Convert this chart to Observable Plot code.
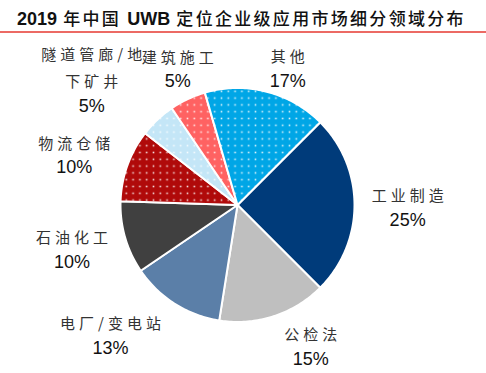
<!DOCTYPE html>
<html>
<head>
<meta charset="utf-8">
<script src="https://cdn.jsdelivr.net/npm/d3@7"></script>
<script src="https://cdn.jsdelivr.net/npm/@observablehq/plot@0.6"></script>
<style>
  html, body { margin: 0; padding: 0; background: #fff; }
  body { width: 486px; height: 373px; overflow: hidden; }
  #title {
    font-family: "Noto Sans CJK SC", sans-serif;
    font-size: 17px;
    font-weight: 500;
    letter-spacing: 2.3px;
    color: #111;
    padding: 8px 0 0 17px;
    height: 23px;
    line-height: 20px;
    white-space: nowrap;
    border-bottom: 2px solid #ec6a64;
    box-sizing: content-box;
  }
  #title .lat {
    font-family: "Liberation Sans", Arial, sans-serif;
    font-weight: bold;
    font-size: 18px;
    letter-spacing: 0;
  }
  #chart svg { display: block; }
</style>
</head>
<body>
<div id="title"><span class="lat">2019</span> 年中国 <span class="lat">UWB</span> 定位企业级应用市场细分领域分布</div>
<div id="chart"></div>
<script>
// ---- data ----
const categories = ["工业制造", "公检法", "电厂/变电站", "石油化工", "物流仓储", "隧道管廊/地下矿井", "建筑施工", "其他"];
const shares = [25, 15, 13, 10, 10, 5, 5, 17];
const labelText = ["工业制造", "公检法", "电厂/变电站", "石油化工", "物流仓储", "隧道管廊/地\n下矿井", "建筑施工", "其他"];

// ---- style / layout ----
const sliceColors = ["#003b7a", "#bfbfbf", "#5b7fa8", "#404040", "#b00a0a", "#c4e6f7", "#ff6262", "#00a6e6"];
const slicePatterned = [false, false, false, false, true, true, true, true];
const startAngle = Math.PI / 4; // 45° clockwise from 12 o'clock
const R = 117; // px per data unit (pie radius)
const labelRadius = 1.42;
const labelNudge = [[4, 15], [22, -4], [-38, 3], [-6, 11], [-7, 19], [-32, 22], [11, 27], [9, 37]];

// ---- geometry from data ----
const total = d3.sum(shares);
let acc = 0;
const slices = categories.map((c, i) => {
  const a0 = startAngle + (acc / total) * 2 * Math.PI;
  acc += shares[i];
  const a1 = startAngle + (acc / total) * 2 * Math.PI;
  return {c, i, a0, a1};
});

function slicePoints(s) {
  const pts = [{x: 0, y: 0}];
  const n = Math.max(2, Math.ceil((s.a1 - s.a0) / (Math.PI / 180)));
  for (let k = 0; k <= n; k++) {
    const a = s.a0 + (s.a1 - s.a0) * k / n;
    pts.push({x: Math.sin(a), y: -Math.cos(a)});
  }
  pts.push({x: 0, y: 0});
  return pts;
}

const labels = slices.map((s, i) => {
  const m = (s.a0 + s.a1) / 2;
  return {
    name: labelText[i],
    pct: shares[i] + "%",
    x: labelRadius * Math.sin(m) + labelNudge[i][0] / R,
    y: -labelRadius * Math.cos(m) + labelNudge[i][1] / R
  };
});

const sliceMarks = slices.map((s, i) =>
  Plot.line(slicePoints(s), {
    x: "x", y: "y",
    fill: slicePatterned[i] ? `url(#dots-${i})` : sliceColors[i],
    stroke: "#fff",
    strokeWidth: 2,
    strokeLinejoin: "round",
    curve: "linear"
  })
);

const cx = 237, cy = 171.5;
const svg = Plot.plot({
  width: 486,
  height: 340,
  margin: 0,
  x: {domain: [-1, 1], range: [cx - R, cx + R], axis: null},
  y: {domain: [-1, 1], range: [cy - R, cy + R], axis: null},
  marks: [
    ...sliceMarks,
    Plot.text(labels, {
      x: "x", y: "y", text: "name",
      fontSize: 15,
      fontFamily: "'Noto Sans CJK SC', sans-serif",
      fill: "#333",
      lineAnchor: "bottom",
      lineHeight: 1.8,
      dx: 2,
      dy: -19
    }),
    Plot.text(labels, {
      x: "x", y: "y", text: "pct",
      fontSize: 18,
      fontFamily: "'Liberation Sans', Arial, sans-serif",
      fill: "#111",
      lineAnchor: "middle"
    })
  ]
});

// dotted pattern fills
const defs = d3.select(svg).insert("defs", ":first-child");
slices.forEach((s, i) => {
  if (!slicePatterned[i]) return;
  const p = defs.append("pattern")
    .attr("id", `dots-${i}`)
    .attr("patternUnits", "userSpaceOnUse")
    .attr("width", 6.8).attr("height", 6.8);
  p.append("rect").attr("width", 6.8).attr("height", 6.8).attr("fill", sliceColors[i]);
  p.append("rect").attr("x", 2.6).attr("y", 2.6).attr("width", 1.6).attr("height", 1.6)
    .attr("fill", "#fff").attr("fill-opacity", 0.85);
});

// spaced CJK category labels
d3.select(svg).selectAll("text")
  .filter(function () { return /[\u4e00-\u9fff]/.test(this.textContent); })
  .attr("letter-spacing", 4);

document.getElementById("chart").appendChild(svg);
</script>
</body>
</html>
